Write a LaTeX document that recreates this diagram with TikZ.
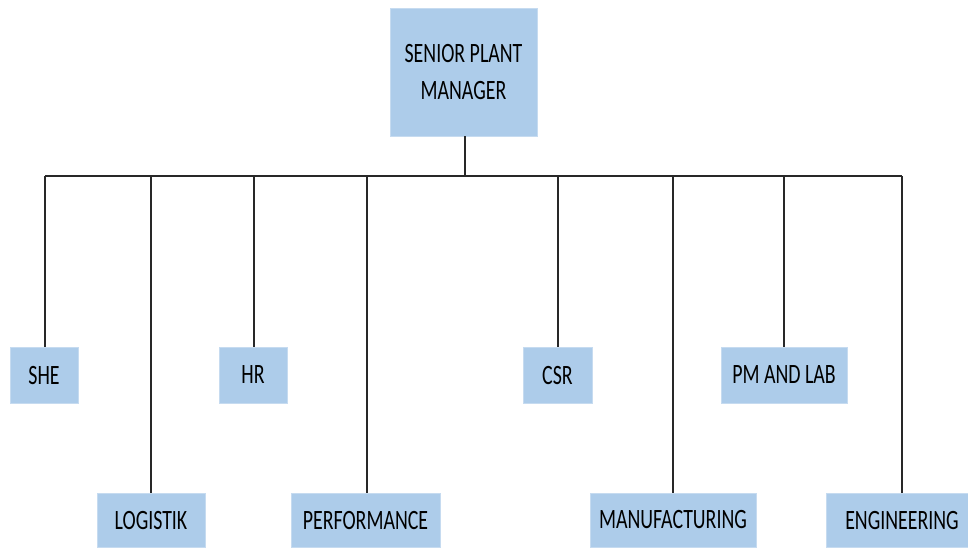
\documentclass[tikz,border=0pt]{standalone}
\usepackage{fontspec}
\newfontfamily\orgfont[FakeStretch=0.71]{Carlito}
\definecolor{boxblue}{RGB}{173,204,234}
\definecolor{linegray}{RGB}{40,40,40}
\tikzset{
  orgbox/.style={rectangle, fill=boxblue, draw=boxblue!70!white, line width=0.6pt, inner sep=0pt,
    font=\orgfont\fontsize{28}{37}\selectfont, text=black, align=center},
  conn/.style={draw=linegray, line width=1.4pt}
}
\begin{document}
\begin{tikzpicture}[x=1pt,y=-1pt]
\useasboundingbox (0,0) rectangle (968,547);
\node[orgbox, minimum width=147pt, minimum height=128pt] (top) at (463.5,72) {SENIOR PLANT\\MANAGER};
\node[orgbox, minimum width=68pt, minimum height=56pt] (she) at (44,375) {SHE};
\node[orgbox, minimum width=68pt, minimum height=56pt] (hr) at (253,375) {HR};
\node[orgbox, minimum width=69pt, minimum height=56pt] (csr) at (557.5,375) {CSR};
\node[orgbox, minimum width=126pt, minimum height=56pt] (pm) at (784,375) {PM AND LAB};
\node[orgbox, minimum width=108pt, minimum height=54pt] (log) at (151,520) {LOGISTIK};
\node[orgbox, minimum width=149pt, minimum height=54pt] (perf) at (365.5,520) {PERFORMANCE};
\node[orgbox, minimum width=166pt, minimum height=54pt] (man) at (673,520) {MANUFACTURING};
\node[orgbox, minimum width=142pt, minimum height=54pt] (eng) at (897,520) {\hspace*{10pt}ENGINEERING};
\coordinate (bus) at (465,176);
\coordinate (busl) at (45,176);
\coordinate (engtop) at (902,493);
\draw[conn] (top.south -| bus) -- (bus);
\draw[conn] (busl) -- (engtop |- bus);
\draw[conn] ([xshift=1pt]she.north) -- ([xshift=1pt]she.north |- bus);
\draw[conn] (log.north) -- (log.north |- bus);
\draw[conn] ([xshift=1pt]hr.north) -- ([xshift=1pt]hr.north |- bus);
\draw[conn] ([xshift=1.5pt]perf.north) -- ([xshift=1.5pt]perf.north |- bus);
\draw[conn] ([xshift=0.5pt]csr.north) -- ([xshift=0.5pt]csr.north |- bus);
\draw[conn] (man.north) -- (man.north |- bus);
\draw[conn] (pm.north) -- (pm.north |- bus);
\draw[conn] (engtop) -- (engtop |- bus);
\end{tikzpicture}
\end{document}
